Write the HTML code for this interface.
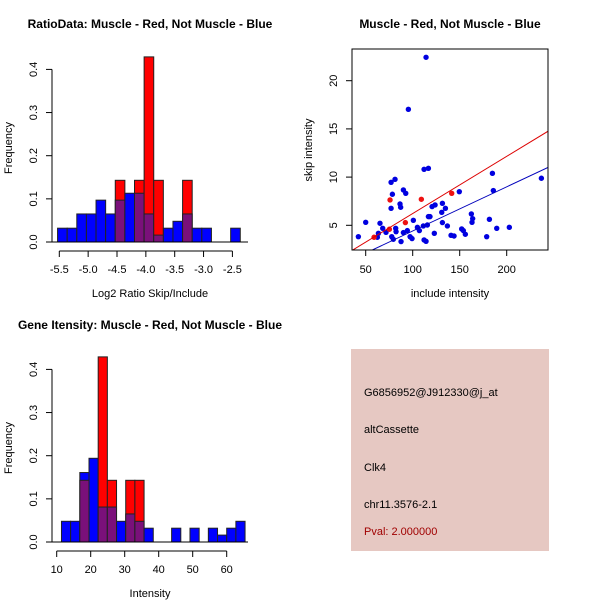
<!DOCTYPE html>
<html><head><meta charset="utf-8"><style>
html,body{margin:0;padding:0;background:#fff;}
svg{display:block;font-family:"Liberation Sans",sans-serif;}
</style></head><body>
<svg id="c" width="600" height="600" viewBox="0 0 600 600">
<rect x="351" y="349" width="198" height="202" fill="#e6c8c2"/>
<g font-size="11">
<text x="364" y="396">G6856952@J912330@j_at</text>
<text x="364" y="433">altCassette</text>
<text x="364" y="471">Clk4</text>
<text x="364" y="508">chr11.3576-2.1</text>
<text x="364" y="535" fill="#a00000">Pval: 2.000000</text>
</g>
</svg>
<script>
// ---- Ratio histogram data ----
const ratioStart = -5.53;
const ratioBinWidth = 1/6;
const ratioBlue = [0.032,0.032,0.065,0.065,0.097,0.065,0.097,0.113,0.113,0.065,0.016,0.032,0.048,0.065,0.032,0.032,0,0,0.032];
const ratioRed  = [0,0,0,0,0,0,0.143,0,0.143,0.429,0.143,0,0,0.143,0,0,0,0,0];
const ratioXTicks = [-5.5,-5.0,-4.5,-4.0,-3.5,-3.0,-2.5];
const ratioXTickLabels = ["-5.5","-5.0","-4.5","-4.0","-3.5","-3.0","-2.5"];
const freqTicks = [0,0.1,0.2,0.3,0.4];
const freqTickLabels = ["0.0","0.1","0.2","0.3","0.4"];
// ---- Intensity histogram data ----
const intStart = 11.4;
const intBinWidth = 2.7;
const intBlue = [0.048,0.048,0.161,0.194,0.081,0.081,0.048,0.065,0.048,0.032,0,0,0.032,0,0.032,0,0.032,0.016,0.032,0.048];
const intRed  = [0,0,0.143,0,0.429,0.143,0,0.143,0.143,0,0,0,0,0,0,0,0,0,0,0];
const intXTicks = [10,20,30,40,50,60];
const intXTickLabels = ["10","20","30","40","50","60"];
// ---- Scatter data ----
const blueX = [42.2,50,114.2,95.4,112.1,116.7,77,81.2,78.4,90.1,92.6,86.5,87.2,77,100.7,65.2,68.1,63.5,62.4,71.6,77.7,79.4,82.3,81.9,87.6,90.1,94.3,97.2,99.3,105,107.1,111.3,112.1,114.2,115.6,116.7,118.4,120.6,123.8,123,130.9,131.6,134.8,131.6,136.9,140.8,144,149.6,152.1,153.9,156,162.4,163.8,163.1,178.7,181.6,184.8,185.8,189.4,202.8,236.9];
const blueY = [3.82,5.31,22.43,17.03,10.81,10.91,9.46,9.77,8.22,8.67,8.32,7.21,6.87,6.76,5.52,5.21,4.69,4.17,3.76,4.27,3.82,3.55,4.34,4.69,3.31,4.24,4.45,3.82,3.62,4.79,4.45,4.93,3.48,3.34,5.03,5.9,5.9,6.94,7.11,4.17,6.35,7.28,6.76,5.28,4.93,3.96,3.89,8.49,4.62,4.45,4.07,6.18,5.69,5.31,3.82,5.62,10.39,8.6,4.69,4.79,9.88];
const redX = [58.9,75.2,75.9,92.2,109.2,141.5];
const redY = [3.76,4.59,7.63,5.28,7.70,8.32];
const redFit = [0.29,0.0593];
const blueFit = [-0.17,0.0458];
const scXTicks = [50,100,150,200];
const scYTicks = [5,10,15,20];

const NS="http://www.w3.org/2000/svg";
const svg=document.getElementById('c');
function mk(tag,attrs,parent){const e=document.createElementNS(NS,tag);for(const k in attrs)e.setAttribute(k,attrs[k]);(parent||svg).appendChild(e);return e;}
function txt(x,y,s,attrs){const t=mk('text',Object.assign({x:x,y:y},attrs||{}));t.textContent=s;return t;}

function hist(oy,start,bw,blue,red,xs,xl,xpx0,xpxScale,title,titleX,titleY,xtitle,axisFrom,axisTo,name){
  const g=mk('g',{});
  
  
  const y0=oy+242, yS=431.5;
  const X=v=>xpx0+(v-xs[0])*xpxScale;
  const Y=v=>y0-v*yS;
  for(let i=0;i<blue.length;i++){
    const a=start+i*bw, b=a+bw;
    const hb=blue[i], hr=red[i];
    if(hb===0&&hr===0) continue;
    const top=Math.max(hb,hr), ov=Math.min(hb,hr);
    const col=hr>hb?'#ff0000':'#0000ff';
    const r=mk('rect',{x:X(a),y:Y(top),width:X(b)-X(a),height:Y(0)-Y(top),fill:col,stroke:'#222','stroke-width':1},g);
    
    
    if(ov>0){
      const p=mk('rect',{x:X(a),y:Y(ov),width:X(b)-X(a),height:Y(0)-Y(ov),fill:'#7a107a',stroke:'#222','stroke-width':1},g);
      
      
    }
  }
  mk('line',{x1:52,x2:248,y1:y0,y2:y0,stroke:'#000'},g);
  mk('line',{x1:52,x2:52,y1:Y(0),y2:Y(0.4),stroke:'#000'},g);
  freqTicks.forEach((v,i)=>{
    mk('line',{x1:46,x2:52,y1:Y(v),y2:Y(v),stroke:'#000'},g);
    const t=txt(0,0,freqTickLabels[i],{'font-size':11,'text-anchor':'middle',transform:`translate(37,${Y(v)}) rotate(-90)`});
    g.appendChild(t);
  });
  const fy=txt(0,0,'Frequency',{'font-size':11,'text-anchor':'middle',transform:`translate(12,${oy+148}) rotate(-90)`});
  
  
  g.appendChild(fy);
  const ay=oy+251;
  mk('line',{x1:X(axisFrom),x2:X(axisTo),y1:ay,y2:ay,stroke:'#000'},g);
  xs.forEach((v,i)=>{
    mk('line',{x1:X(v),x2:X(v),y1:ay,y2:ay+6,stroke:'#000'},g);
    g.appendChild(txt(X(v),oy+273,xl[i],{'font-size':11,'text-anchor':'middle'}));
  });
  const xt=txt(150,oy+297,xtitle,{'font-size':11,'text-anchor':'middle'});
  
  
  g.appendChild(xt);
  const tt=txt(titleX,titleY,title,{'font-size':12,'font-weight':'bold','text-anchor':'middle'});
  
  
  g.appendChild(tt);
}
hist(0,ratioStart,ratioBinWidth,ratioBlue,ratioRed,ratioXTicks,ratioXTickLabels,59.3,57.7,'RatioData: Muscle - Red, Not Muscle - Blue',150,28,'Log2 Ratio Skip/Include',-5.5,-2.5,'ratio-histogram');
hist(300,intStart,intBinWidth,intBlue,intRed,intXTicks,intXTickLabels,56.7,3.4,'Gene Itensity: Muscle - Red, Not Muscle - Blue',150,329,'Intensity',10,60,'intensity-histogram');

(function(){
  const g=mk('g',{});
  
  
  const L=352,R=548,T=49,B=250;
  const X=v=>365.7+(v-50)*0.94;
  const Y=v=>225.3-(v-5)*9.64;
  const cp=mk('clipPath',{id:'clp'},g);
  mk('rect',{x:L,y:T,width:R-L,height:B-T},cp);
  const pg=mk('g',{'clip-path':'url(#clp)'},g);
  blueX.forEach((v,i)=>{
    const c=mk('circle',{cx:X(v),cy:Y(blueY[i]),r:2.7,fill:'#0000e0'},pg);
    
    
  });
  redX.forEach((v,i)=>{
    const c=mk('circle',{cx:X(v),cy:Y(redY[i]),r:2.7,fill:'#ee1111'},pg);
    
    
  });
  const x1=20,x2=260;
  const rl=mk('line',{x1:X(x1),x2:X(x2),y1:Y(redFit[0]+redFit[1]*x1),y2:Y(redFit[0]+redFit[1]*x2),stroke:'#dd0000','stroke-width':1},pg);
  
  
  const bl=mk('line',{x1:X(x1),x2:X(x2),y1:Y(blueFit[0]+blueFit[1]*x1),y2:Y(blueFit[0]+blueFit[1]*x2),stroke:'#0000bb','stroke-width':1},pg);
  
  
  mk('rect',{x:L,y:T,width:R-L,height:B-T,fill:'none',stroke:'#000'},g);
  scXTicks.forEach(v=>{
    mk('line',{x1:X(v),x2:X(v),y1:B,y2:B+6,stroke:'#000'},g);
    g.appendChild(txt(X(v),B+23,String(v),{'font-size':11,'text-anchor':'middle'}));
  });
  scYTicks.forEach(v=>{
    mk('line',{x1:L-6,x2:L,y1:Y(v),y2:Y(v),stroke:'#000'},g);
    g.appendChild(txt(0,0,String(v),{'font-size':11,'text-anchor':'middle',transform:`translate(337,${Y(v)}) rotate(-90)`}));
  });
  const xt=txt(450,297,'include intensity',{'font-size':11,'text-anchor':'middle'});
  
  
  g.appendChild(xt);
  const yt=txt(0,0,'skip intensity',{'font-size':11,'text-anchor':'middle',transform:'translate(312,150) rotate(-90)'});
  
  
  g.appendChild(yt);
  const tt=txt(450,28,'Muscle - Red, Not Muscle - Blue',{'font-size':12,'font-weight':'bold','text-anchor':'middle'});
  
  
  g.appendChild(tt);
})();
</script>
</body></html>
